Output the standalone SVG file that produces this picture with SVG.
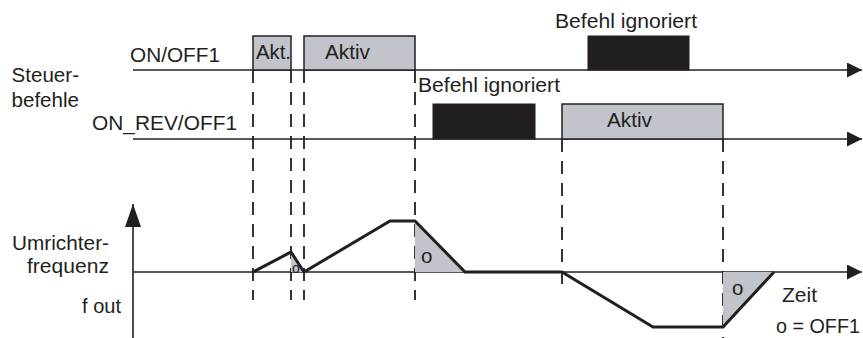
<svg xmlns="http://www.w3.org/2000/svg" width="863" height="338" viewBox="0 0 863 338">
<style>
.t{font-family:"Liberation Sans",Arial,sans-serif;font-size:20.5px;fill:#231f20}
.ax{stroke:#231f20;stroke-width:1.6;fill:none}
.dash{stroke:#231f20;stroke-width:1.8;stroke-dasharray:13 9;fill:none}
.box{fill:#c1c4ca;stroke:#231f20;stroke-width:1.5}
.blk{fill:#231f20;stroke:#231f20;stroke-width:1}
.curve{stroke:#231f20;stroke-width:3;fill:none;stroke-linejoin:miter}
.shade{fill:#c1c4ca;stroke:none}
</style>
<defs>
<marker id="ar" markerUnits="userSpaceOnUse" markerWidth="16" markerHeight="16" refX="15" refY="7.5" orient="auto">
<path d="M0,0 L15,7.5 L0,15 Z" fill="#231f20"/>
</marker>
<marker id="arv" markerUnits="userSpaceOnUse" markerWidth="24" markerHeight="18" refX="23" refY="8" orient="auto">
<path d="M0,0 L23,8 L0,16 Z" fill="#231f20"/>
</marker>
</defs>

<g id="labels">
<text class="t" x="11.5" y="82" textLength="67.5" lengthAdjust="spacingAndGlyphs">Steuer-</text>
<text class="t" x="11.5" y="106.5" textLength="67.5" lengthAdjust="spacingAndGlyphs">befehle</text>
<text class="t" x="12" y="250" textLength="97" lengthAdjust="spacingAndGlyphs">Umrichter-</text>
<text class="t" x="27" y="273" textLength="82" lengthAdjust="spacingAndGlyphs">frequenz</text>
<text class="t" x="82" y="313" textLength="39" lengthAdjust="spacingAndGlyphs">f out</text>
<text class="t" x="782" y="302" textLength="35" lengthAdjust="spacingAndGlyphs">Zeit</text>
<text class="t" x="776" y="333" textLength="84" lengthAdjust="spacingAndGlyphs" style="font-size:20px">o = OFF1</text>
</g>

<g id="connectors">
<line class="ax" x1="133" y1="70" x2="862" y2="70" marker-end="url(#ar)"/>
<line class="ax" x1="133" y1="139" x2="862" y2="139" marker-end="url(#ar)"/>
<line class="ax" x1="133" y1="272" x2="862" y2="272" marker-end="url(#ar)"/>
<line class="ax" x1="133" y1="338" x2="133" y2="204" marker-end="url(#arv)"/>
<line class="dash" x1="253" y1="70" x2="253" y2="300"/>
<line class="dash" x1="291" y1="70" x2="291" y2="300"/>
<line class="dash" x1="304" y1="70" x2="304" y2="300"/>
<line class="dash" x1="415" y1="70" x2="415" y2="300"/>
<line class="dash" x1="562" y1="139" x2="562" y2="284"/>
<line class="dash" x1="723" y1="139" x2="723" y2="338"/>
</g>

<g id="signal-onoff1">
<text class="t" x="130" y="62" textLength="90" lengthAdjust="spacingAndGlyphs">ON/OFF1</text>
<g id="akt1">
<rect class="box" x="253" y="36" width="38" height="34"/>
<text class="t" x="256" y="59" textLength="35" lengthAdjust="spacingAndGlyphs">Akt.</text>
</g>
<g id="aktiv1">
<rect class="box" x="304" y="36" width="111" height="34"/>
<text class="t" x="325" y="59" textLength="45" lengthAdjust="spacingAndGlyphs">Aktiv</text>
</g>
<g id="ignored1">
<rect class="blk" x="588" y="36" width="101" height="34"/>
<text class="t" x="555" y="27.5" textLength="142" lengthAdjust="spacingAndGlyphs">Befehl ignoriert</text>
</g>
</g>

<g id="signal-onrev">
<text class="t" x="92" y="130" textLength="145" lengthAdjust="spacingAndGlyphs">ON_REV/OFF1</text>
<g id="ignored2">
<rect class="blk" x="433" y="104" width="102" height="35"/>
<text class="t" x="418" y="92" textLength="142" lengthAdjust="spacingAndGlyphs">Befehl ignoriert</text>
</g>
<g id="aktiv2">
<rect class="box" x="562" y="104" width="161" height="35"/>
<text class="t" x="607" y="127" textLength="45" lengthAdjust="spacingAndGlyphs">Aktiv</text>
</g>
</g>

<g id="frequency">
<polygon class="shade" points="291,252 304,272 291,272"/>
<polygon class="shade" points="415,221 465,272 415,272"/>
<polygon class="shade" points="723,327 774,272 723,272"/>
<text class="t" x="292" y="272.5" style="font-size:14px">o</text>
<text class="t" x="421" y="263">o</text>
<text class="t" x="732" y="295">o</text>
<polyline class="curve" points="253,272 291,252 304,272 390,221 415,221 465,272 562,272 653,327 723,327 774,272"/>
</g>
</svg>
